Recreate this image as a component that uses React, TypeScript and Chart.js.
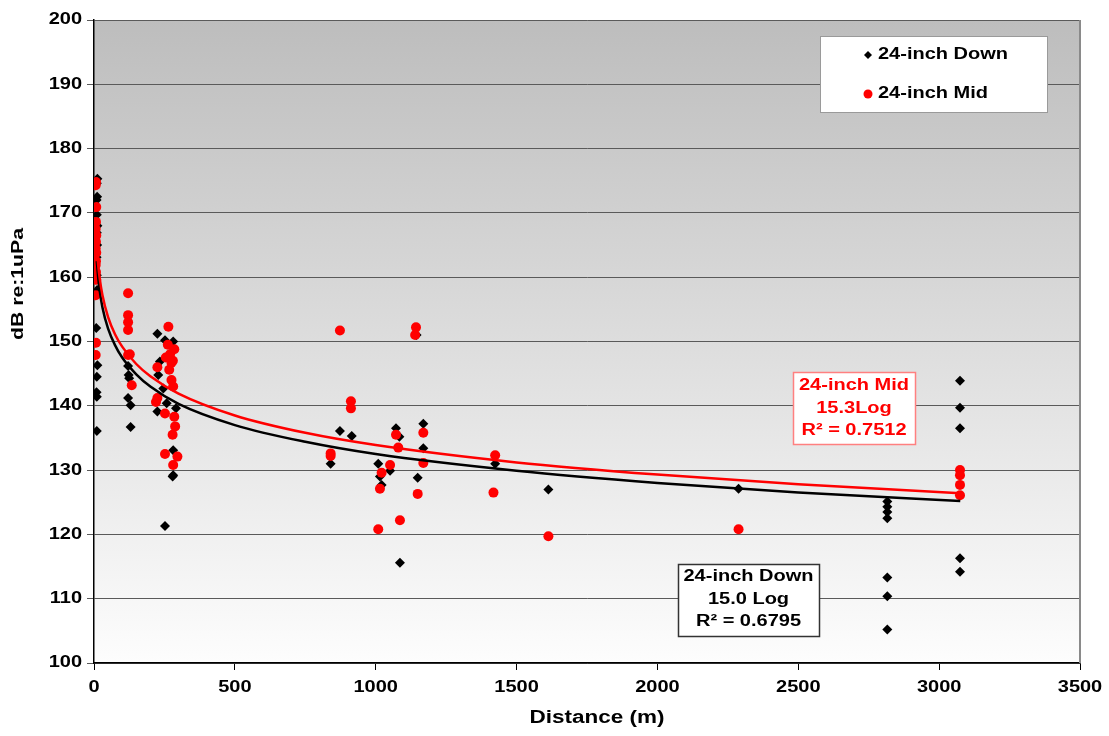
import React, { useEffect, useRef } from 'react';
import { Chart, registerables } from 'chart.js';

Chart.register(...registerables);

const FONT = '"Liberation Sans", Arial, sans-serif';
const STRETCH = 1.25;

// 24-inch Down (black diamonds)
const downDist = [
  12, 10, 11, 9, 10, 12, 10, 11, 9, 10, 11, 8, 12, 10, 9, 10, 10,
  121, 123, 125, 121, 130, 130,
  225, 252, 281, 234, 228, 246, 225, 258, 291, 281, 281, 279, 252,
  1145, 873, 915, 840, 1072, 1084, 1169, 1169, 1149, 1009, 1051, 1015, 1021, 1086,
  1424, 1613, 2288,
  2816, 2816, 2816, 2816, 2816, 2816, 2816,
  3074, 3074, 3074, 3074, 3074,
];
const downDb = [
  175.3, 174.6, 172.5, 172.0, 169.7, 168.0, 166.9, 165.0, 163.1, 160.3, 158.0, 152.1, 146.3, 144.5, 142.1, 141.4, 136.1,
  146.2, 144.8, 144.3, 141.2, 140.1, 136.7,
  151.2, 150.2, 150.0, 146.9, 144.8, 142.7, 139.1, 140.4, 139.6, 133.1, 129.2, 129.0, 121.3,
  151.0, 136.1, 135.3, 131.0, 136.5, 135.2, 137.2, 133.4, 128.8, 131.0, 129.9, 129.0, 127.7, 115.6,
  131.0, 127.0, 127.1,
  125.1, 124.3, 123.5, 122.5, 113.3, 110.4, 105.2,
  143.9, 139.7, 136.5, 116.3, 114.2,
];

// 24-inch Mid (red circles)
const midDist = [
  7, 6, 8, 7, 6, 8, 7, 6, 8, 7, 6, 7, 8, 6, 7, 6,
  121, 121, 121, 121, 121, 127, 134,
  264, 262, 285, 270, 255, 280, 275, 225, 267, 275, 281, 225, 220, 252, 285, 288, 279, 252, 296, 281,
  873, 1143, 1140, 912, 912, 840, 840, 1072, 1080, 1169, 1169, 1149, 1051, 1021, 1015, 1086, 1009,
  1424, 1418, 1613, 2288,
  3074, 3074, 3074, 3074,
];
const midDb = [
  174.8, 174.3, 170.9, 168.6, 167.5, 166.5, 165.5, 164.5, 163.8, 162.5, 161.9, 160.8, 159.6, 157.2, 149.8, 147.9,
  157.5, 154.1, 153.0, 151.8, 147.9, 148.0, 143.2,
  152.3, 149.5, 148.8, 148.0, 147.5, 147.0, 146.7, 146.0, 145.6, 144.0, 143.0, 141.2, 140.6, 138.8, 138.3, 136.8, 135.5, 132.5, 132.1, 130.8,
  151.7, 152.2, 151.0, 140.7, 139.6, 132.6, 132.2, 135.5, 133.5, 135.8, 131.1, 126.3, 130.8, 129.6, 127.1, 122.2, 120.8,
  132.3, 126.5, 119.7, 120.8,
  130.0, 129.2, 127.7, 126.1,
];

// Trend lines
const fitDist = [10, 15, 20, 30, 50, 75, 100, 150, 200, 300, 500, 750, 1000, 1500, 2000, 2500, 3075];
const downFitDb = [162.5, 159.9, 158.0, 155.3, 152.0, 149.4, 147.5, 144.9, 143.0, 140.3, 137.0, 134.4, 132.5, 129.9, 128.0, 126.5, 125.2];
const midFitDb = [164.5, 161.8, 159.9, 157.2, 153.8, 151.1, 149.2, 146.5, 144.6, 141.9, 138.5, 135.8, 133.9, 131.2, 129.3, 127.8, 126.4];

const xTicks = [0, 500, 1000, 1500, 2000, 2500, 3000, 3500];
const yTicks = [100, 110, 120, 130, 140, 150, 160, 170, 180, 190, 200];

const xTitle = 'Distance (m)';
const yTitle = 'dB re:1uPa';
const legendLabels = ['24-inch Down', '24-inch Mid'];
const midNote = ['24-inch Mid', '15.3Log', 'R² = 0.7512'];
const downNote = ['24-inch Down', '15.0 Log', 'R² = 0.6795'];

const pts = (xs: number[], ys: number[]) => xs.map((x, i) => ({ x, y: ys[i] }));

function sText(ctx: CanvasRenderingContext2D, text: string, x: number, y: number, align: CanvasTextAlign, rot = 0) {
  ctx.save();
  ctx.translate(x, y);
  if (rot) ctx.rotate(rot);
  ctx.scale(STRETCH, 1);
  ctx.textAlign = align;
  ctx.textBaseline = 'middle';
  ctx.fillText(text, 0, 0);
  ctx.restore();
}

const bgPlugin = {
  id: 'bgGrad',
  beforeDraw(chart: any) {
    const { ctx, chartArea: a } = chart;
    ctx.save();
    ctx.fillStyle = '#ffffff';
    ctx.fillRect(0, 0, chart.width, chart.height);
    const g = ctx.createLinearGradient(0, a.top, 0, a.bottom);
    g.addColorStop(0, '#bdbdbd');
    g.addColorStop(1, '#fdfdfd');
    ctx.fillStyle = g;
    ctx.fillRect(a.left, a.top, a.right - a.left, a.bottom - a.top);
    ctx.restore();
  },
  beforeDatasetsDraw(chart: any) {
    const { ctx, chartArea: a } = chart;
    ctx.save();
    ctx.strokeStyle = '#8a8a8a';
    ctx.lineWidth = 2;
    ctx.beginPath();
    ctx.moveTo(a.right, a.top);
    ctx.lineTo(a.right, a.bottom);
    ctx.stroke();
    ctx.restore();
  },
  afterDraw(chart: any) {
    const { ctx, chartArea: a } = chart;
    const sx = chart.scales.x;
    const sy = chart.scales.y;
    ctx.save();
    ctx.fillStyle = '#000';
    // tick labels
    ctx.font = `bold 16px ${FONT}`;
    xTicks.forEach((v) => sText(ctx, String(v), sx.getPixelForValue(v), a.bottom + 25, 'center'));
    yTicks.forEach((v) => sText(ctx, String(v), a.left - 12, sy.getPixelForValue(v), 'right'));
    // axis titles
    ctx.font = `bold 18px ${FONT}`;
    sText(ctx, xTitle, 597, 718, 'center');
    ctx.font = `bold 17px ${FONT}`;
    sText(ctx, yTitle, 18, 284, 'center', -Math.PI / 2);

    // legend
    ctx.fillStyle = '#ffffff';
    ctx.fillRect(820, 36, 227, 76);
    ctx.strokeStyle = '#9a9a9a';
    ctx.lineWidth = 1;
    ctx.strokeRect(820.5, 36.5, 227, 76);
    ctx.font = `bold 16px ${FONT}`;
    ctx.fillStyle = '#000';
    ctx.beginPath();
    ctx.moveTo(868, 51);
    ctx.lineTo(872, 55);
    ctx.lineTo(868, 59);
    ctx.lineTo(864, 55);
    ctx.closePath();
    ctx.fill();
    sText(ctx, legendLabels[0], 878, 55, 'left');
    ctx.fillStyle = '#ff0000';
    ctx.beginPath();
    ctx.arc(868, 94, 4.5, 0, Math.PI * 2);
    ctx.fill();
    ctx.fillStyle = '#000';
    sText(ctx, legendLabels[1], 878, 94, 'left');

    // notes
    const note = (lines: string[], x: number, y: number, w: number, h: number, ys: number[], color: string, border: string) => {
      ctx.fillStyle = '#ffffff';
      ctx.fillRect(x, y, w, h);
      ctx.strokeStyle = border;
      ctx.lineWidth = 1.5;
      ctx.strokeRect(x + 0.5, y + 0.5, w, h);
      ctx.fillStyle = color;
      ctx.font = `bold 16px ${FONT}`;
      lines.forEach((t, i) => sText(ctx, t, x + w / 2, ys[i], 'center'));
    };
    note(midNote, 793, 372, 122, 72, [386, 409, 431], '#ff0000', '#ff8080');
    note(downNote, 678, 564, 141, 72, [577, 600, 622], '#000000', '#333333');
    ctx.restore();
  },
};

export default function App() {
  const ref = useRef<HTMLCanvasElement>(null);
  useEffect(() => {
    if (!ref.current) return;
    const chart = new Chart(ref.current, {
      type: 'scatter',
      data: {
        datasets: [
          {
            type: 'line',
            data: pts(fitDist, midFitDb),
            borderColor: '#ff0000',
            borderWidth: 2.5,
            pointRadius: 0,
            cubicInterpolationMode: 'monotone',
            fill: false,
            order: 0,
          } as any,
          {
            type: 'line',
            data: pts(fitDist, downFitDb),
            borderColor: '#000000',
            borderWidth: 2.5,
            pointRadius: 0,
            cubicInterpolationMode: 'monotone',
            fill: false,
            order: 1,
          } as any,
          {
            label: legendLabels[1],
            data: pts(midDist, midDb),
            backgroundColor: '#ff0000',
            borderColor: '#ff0000',
            borderWidth: 0,
            pointStyle: 'circle',
            pointRadius: 5,
            order: 2,
          },
          {
            label: legendLabels[0],
            data: pts(downDist, downDb),
            backgroundColor: '#000000',
            borderColor: '#000000',
            borderWidth: 0,
            pointStyle: 'rectRot',
            pointRadius: 5,
            order: 3,
          },
        ],
      },
      options: {
        responsive: false,
        animation: false,
        layout: { padding: { top: 20, right: 29, left: 0, bottom: 0 } },
        plugins: { legend: { display: false }, tooltip: { enabled: false } },
        scales: {
          x: {
            type: 'linear',
            min: 0,
            max: 3500,
            afterBuildTicks: (s: any) => { s.ticks = xTicks.map((v) => ({ value: v })); },
            ticks: { display: false },
            grid: { drawOnChartArea: false, drawTicks: true, tickLength: 7, color: '#000' },
            border: { color: '#000', width: 1.5 },
            afterFit: (s: any) => { s.height = 73; },
          },
          y: {
            type: 'linear',
            min: 100,
            max: 200,
            afterBuildTicks: (s: any) => { s.ticks = yTicks.map((v) => ({ value: v })); },
            ticks: { display: false },
            grid: { color: '#5a5a5a', lineWidth: 1, tickLength: 7, drawTicks: true },
            border: { color: '#000', width: 1.5 },
            afterFit: (s: any) => { s.width = 94; },
          },
        },
      },
      plugins: [bgPlugin],
    } as any);
    return () => chart.destroy();
  }, []);
  return (
    <div style={{ position: 'fixed', left: 0, top: 0, width: 1109, height: 736, background: '#fff' }}>
      <canvas ref={ref} width={1109} height={736} style={{ display: 'block' }} />
    </div>
  );
}
